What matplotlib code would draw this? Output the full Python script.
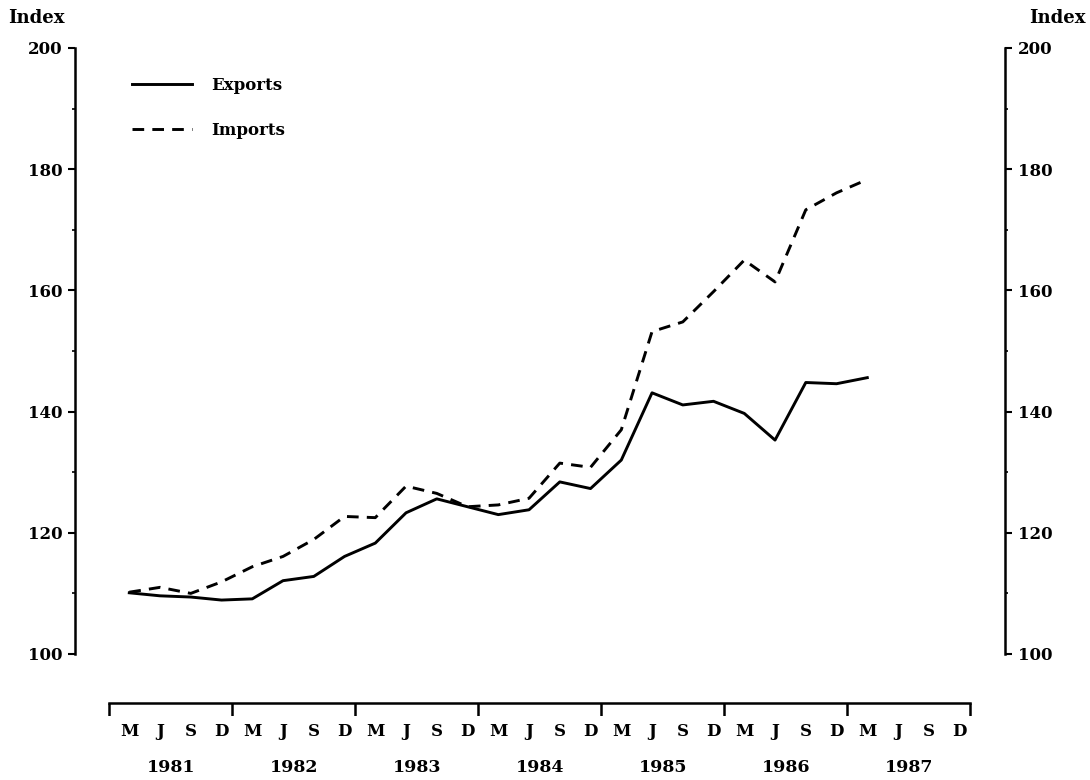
import numpy as np
import matplotlib
matplotlib.use("Agg")
import matplotlib.pyplot as plt
import matplotlib.transforms as mtransforms

# quarterly index values, March 1981 .. March 1987
exports = [110.1, 109.6, 109.4, 108.9, 109.1, 112.1, 112.8, 116.1, 118.3,
           123.3, 125.6, 124.3, 123.0, 123.8, 128.4, 127.3, 132.0, 143.1,
           141.1, 141.7, 139.7, 135.3, 144.8, 144.6, 145.6]
imports = [110.2, 111.0, 110.0, 111.9, 114.4, 116.1, 118.9, 122.7, 122.5,
           127.7, 126.5, 124.3, 124.6, 125.7, 131.5, 130.8, 137.0, 153.2,
           154.8, 159.8, 165.0, 161.4, 173.3, 176.1, 178.3]
years = [1981, 1982, 1983, 1984, 1985, 1986, 1987]
quarters = ["M", "J", "S", "D"]

plt.rcParams["font.family"] = ["DejaVu Serif"]
plt.rcParams["font.weight"] = "bold"
plt.rcParams["font.size"] = 12

W, H = 1090, 780
fig = plt.figure(figsize=(W / 100, H / 100), dpi=100)

# main panel: spines at x=75 / 1005 px, y=48 / 654 px
ax = fig.add_axes([75 / W, (H - 654) / H, (1005 - 75) / W, (654 - 48) / H])
q0 = 109.3
qw = 30.75
xlim = ((75 - q0) / qw, (1005 - q0) / qw)

x = np.arange(len(exports)) + 0.65
ax.plot(x, exports, color="black", lw=2.1, label="Exports")
ax.plot(x, imports, color="black", lw=2.1, dashes=(4, 2.8), label="Imports")

ax.set_xlim(*xlim)
ax.set_ylim(100, 200)
ax.set_yticks(np.arange(100, 201, 20))
ax.set_yticks(np.arange(110, 200, 20), minor=True)
ax.tick_params(axis="y", which="major", length=5, width=1.5, direction="out",
               left=True, right=True, labelleft=True, labelright=True, pad=4)
ax.tick_params(axis="y", which="minor", length=2, width=1.2, direction="out",
               left=True, right=True)
ax.tick_params(axis="x", bottom=False, labelbottom=False)
for s in ["top", "bottom"]:
    ax.spines[s].set_visible(False)
for s in ["left", "right"]:
    ax.spines[s].set_linewidth(1.8)

fig.text(8 / W, (H - 18) / H, "Index", ha="left", va="center", fontsize=13)
fig.text(1086 / W, (H - 18) / H, "Index", ha="right", va="center", fontsize=13)

ax.legend(loc="upper left", bbox_to_anchor=(125 / W, (H - 70) / H),
          bbox_transform=fig.transFigure, frameon=False, handlelength=3.6,
          handletextpad=1.2, labelspacing=1.7, borderaxespad=0)

# time axis below the panel
ax2 = fig.add_axes([75 / W, (H - 716) / H, (1005 - 75) / W, 13 / H])
nq = 4 * len(years)
ax2.set_xlim(*xlim)
ax2.set_ylim(0, 1)
for s in ["left", "right", "bottom"]:
    ax2.spines[s].set_visible(False)
ax2.spines["top"].set_bounds(0, nq)
ax2.spines["top"].set_linewidth(1.8)
ax2.vlines(np.arange(0, nq + 1, 4), 0, 1, color="black", lw=1.8)
ax2.set_yticks([])
ax2.set_xticks(np.arange(nq) + 0.65)
ax2.set_xticklabels(quarters * len(years))
ax2.tick_params(axis="x", length=0, pad=5)
trans = mtransforms.blended_transform_factory(ax2.transData, fig.transFigure)
for k, yr in enumerate(years):
    ax2.text(4 * k + 2, (H - 768) / H, str(yr), transform=trans,
             ha="center", va="center", fontsize=12.5)

fig.savefig("out.png", dpi=100)
